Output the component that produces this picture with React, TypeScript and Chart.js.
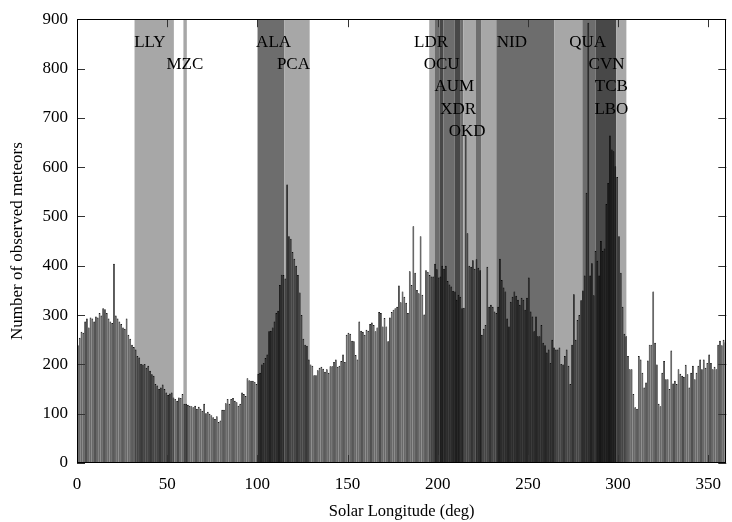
import React, { useEffect, useRef } from "react";
import { Chart, registerables } from "chart.js";

Chart.register(...registerables);

// Number of observed meteors per 1-degree solar longitude bin (0..359)
const COUNTS: number[] = [
  239, 254, 266, 264, 287, 293, 275, 295, 293, 287,
  297, 295, 304, 299, 314, 312, 304, 293, 287, 284,
  404, 299, 293, 287, 282, 275, 272, 293, 260, 252,
  240, 235, 230, 217, 214, 201, 200, 201, 193, 197,
  187, 180, 177, 160, 157, 150, 153, 159, 150, 143,
  138, 141, 143, 133, 130, 126, 133, 132, 140, 120,
  120, 118, 116, 115, 113, 116, 110, 114, 110, 106,
  120, 101, 104, 100, 97, 93, 89, 95, 83, 86,
  108, 108, 121, 130, 120, 130, 132, 126, 123, 116,
  120, 143, 140, 136, 172, 168, 167, 167, 165, 160,
  181, 183, 200, 203, 213, 220, 267, 268, 275, 287,
  304, 309, 361, 382, 381, 374, 565, 460, 455, 428,
  414, 400, 381, 346, 300, 252, 240, 238, 210, 200,
  197, 178, 178, 188, 193, 195, 191, 185, 190, 183,
  196, 196, 205, 210, 195, 197, 207, 220, 205, 260,
  264, 262, 248, 247, 219, 210, 287, 268, 266, 260,
  270, 268, 282, 285, 280, 267, 275, 306, 304, 277,
  294, 277, 247, 295, 306, 311, 314, 317, 360, 326,
  348, 337, 325, 304, 389, 361, 480, 386, 351, 344,
  460, 341, 301, 391, 388, 381, 378, 378, 404, 393,
  376, 378, 400, 394, 400, 369, 362, 358, 349, 348,
  331, 341, 337, 314, 315, 665, 466, 400, 398, 411,
  394, 413, 396, 391, 260, 272, 280, 398, 317, 321,
  317, 307, 304, 317, 414, 371, 356, 348, 293, 277,
  327, 337, 348, 339, 331, 321, 335, 331, 311, 335,
  376, 307, 297, 267, 297, 257, 257, 280, 244, 239,
  224, 230, 203, 250, 234, 230, 230, 234, 201, 200,
  217, 230, 197, 160, 240, 342, 250, 290, 300, 330,
  350, 380, 548, 893, 380, 405, 340, 430, 410, 380,
  450, 430, 435, 525, 568, 664, 636, 632, 602, 580,
  460, 386, 317, 262, 257, 217, 190, 190, 140, 113,
  110, 217, 210, 183, 153, 163, 208, 240, 240, 348,
  244, 200, 120, 115, 183, 207, 170, 170, 150, 228,
  161, 167, 160, 190, 181, 177, 175, 199, 180, 153,
  183, 197, 170, 183, 197, 210, 190, 210, 193, 203,
  220, 203, 190, 195, 190, 240, 248, 239, 250, 245,
];

const X_TICKS = [0, 50, 100, 150, 200, 250, 300, 350];
const Y_TICKS = [0, 100, 200, 300, 400, 500, 600, 700, 800, 900];

// Shaded shower activity ranges (solar longitude, deg) and how many ranges overlap there
const BAND_FROM = [31.9, 59.0, 100.1, 114.9, 195.3, 198.3, 201.0, 203.2, 209.3, 212.4, 214.2, 221.2, 224.3, 232.5, 264.6, 280.2, 287.5, 299.0];
const BAND_TO = [53.7, 60.9, 114.9, 129.0, 198.3, 201.0, 203.2, 209.3, 212.4, 214.2, 221.2, 224.3, 232.5, 264.6, 280.2, 287.5, 299.0, 304.6];
const BAND_DEPTH = [1, 1, 2, 1, 1, 2, 3, 2, 3, 2, 1, 2, 1, 2, 1, 2, 3, 1];

// Shower codes, longitude where the label sits, and label row
const SHOWER_CODES = ["LLY", "MZC", "ALA", "PCA", "LDR", "OCU", "AUM", "XDR", "OKD", "NID", "QUA", "CVN", "TCB", "LBO"];
const SHOWER_LABEL_LON = [40.4, 59.8, 109.0, 120.0, 196.3, 202.2, 209.2, 211.3, 216.3, 241.1, 283.1, 293.6, 296.3, 296.3];
const SHOWER_LABEL_ROW = [0, 1, 0, 1, 0, 1, 2, 3, 4, 0, 0, 1, 2, 3];

const FONT = "'Liberation Serif', 'Times New Roman', Times, serif";

export default function App() {
  const ref = useRef<HTMLCanvasElement>(null);

  useEffect(() => {
    document.body.style.margin = "0";
    const canvas = ref.current;
    if (!canvas) return;

    const overlay = {
      id: "overlay",
      beforeDatasetsDraw(chart: any) {
        const { ctx, chartArea: a, scales } = chart;
        const xs = scales.x;
        ctx.save();
        for (let i = 0; i < BAND_FROM.length; i++) {
          const g = Math.round(255 * Math.pow(1 - 0.345, BAND_DEPTH[i]));
          ctx.fillStyle = `rgb(${g},${g},${g})`;
          const x1 = xs.getPixelForValue(BAND_FROM[i]);
          const x2 = xs.getPixelForValue(BAND_TO[i]);
          ctx.fillRect(x1, a.top, x2 - x1, a.bottom - a.top);
        }
        ctx.fillStyle = "#000";
        ctx.font = `17px ${FONT}`;
        ctx.textAlign = "center";
        ctx.textBaseline = "middle";
        for (let i = 0; i < SHOWER_CODES.length; i++) {
          const x = xs.getPixelForValue(SHOWER_LABEL_LON[i]);
          const y = a.top + 23 + 22.4 * SHOWER_LABEL_ROW[i];
          ctx.fillText(SHOWER_CODES[i], x, y);
        }
        ctx.restore();
      },
      afterDatasetsDraw(chart: any) {
        const { ctx, chartArea: a, scales } = chart;
        const xs = scales.x;
        const ys = scales.y;
        ctx.save();
        ctx.strokeStyle = "#333";
        ctx.lineWidth = 1;
        ctx.beginPath();
        for (const v of X_TICKS) {
          const x = Math.round(xs.getPixelForValue(v)) + 0.5;
          ctx.moveTo(x, a.bottom);
          ctx.lineTo(x, a.bottom - 8);
          ctx.moveTo(x, a.top);
          ctx.lineTo(x, a.top + 8);
        }
        for (const v of Y_TICKS) {
          const y = Math.round(ys.getPixelForValue(v)) + 0.5;
          ctx.moveTo(a.left, y);
          ctx.lineTo(a.left + 8, y);
          ctx.moveTo(a.right, y);
          ctx.lineTo(a.right - 8, y);
        }
        ctx.stroke();
        ctx.strokeStyle = "#000";
        ctx.strokeRect(Math.round(a.left) + 0.5, Math.round(a.top) + 0.5, Math.round(a.right - a.left) - 1, Math.round(a.bottom - a.top) - 1);
        ctx.restore();
      },
    };

    const chart = new Chart(canvas, {
      type: "bar",
      data: {
        datasets: [
          {
            data: COUNTS.map((v, i) => ({ x: i + 0.5, y: v })),
            backgroundColor: "rgba(0,0,0,0)",
            borderColor: "#000",
            borderWidth: 0.7,
            borderSkipped: "bottom",
            barPercentage: 1,
            categoryPercentage: 1,
            inflateAmount: 0,
          } as any,
        ],
      },
      options: {
        responsive: false,
        animation: false,
        devicePixelRatio: 1,
        layout: { padding: { top: 15, right: 0, left: 0, bottom: 0 } },
        plugins: { legend: { display: false }, tooltip: { enabled: false } },
        scales: {
          x: {
            type: "linear",
            min: 0,
            max: 360,
            offset: false,
            grid: { display: false, drawTicks: false },
            border: { display: false },
            ticks: { padding: 11, color: "#000", font: { family: FONT, size: 17 }, maxRotation: 0, autoSkip: false },
            afterBuildTicks: (s: any) => {
              s.ticks = X_TICKS.map((v) => ({ value: v }));
            },
            afterFit: (s: any) => {
              s.height = 59;
            },
            title: {
              display: true,
              text: "Solar Longitude (deg)",
              color: "#000",
              font: { family: FONT, size: 16.5 },
              padding: { top: 0, bottom: 0 },
            },
          },
          y: {
            type: "linear",
            min: 0,
            max: 900,
            grid: { display: false, drawTicks: false },
            border: { display: false },
            ticks: { padding: 9, color: "#000", font: { family: FONT, size: 17 } },
            afterBuildTicks: (s: any) => {
              s.ticks = Y_TICKS.map((v) => ({ value: v }));
            },
            afterFit: (s: any) => {
              s.width = 77;
            },
            title: {
              display: true,
              text: "Number of observed meteors",
              color: "#000",
              font: { family: FONT, size: 17 },
              padding: { top: 7, bottom: 0 },
            },
          },
        },
      } as any,
      plugins: [overlay],
    });

    return () => chart.destroy();
  }, []);

  return (
    <div style={{ width: 732, height: 522 }}>
      <canvas ref={ref} width={732} height={522} style={{ display: "block", width: 732, height: 522 }} />
    </div>
  );
}
